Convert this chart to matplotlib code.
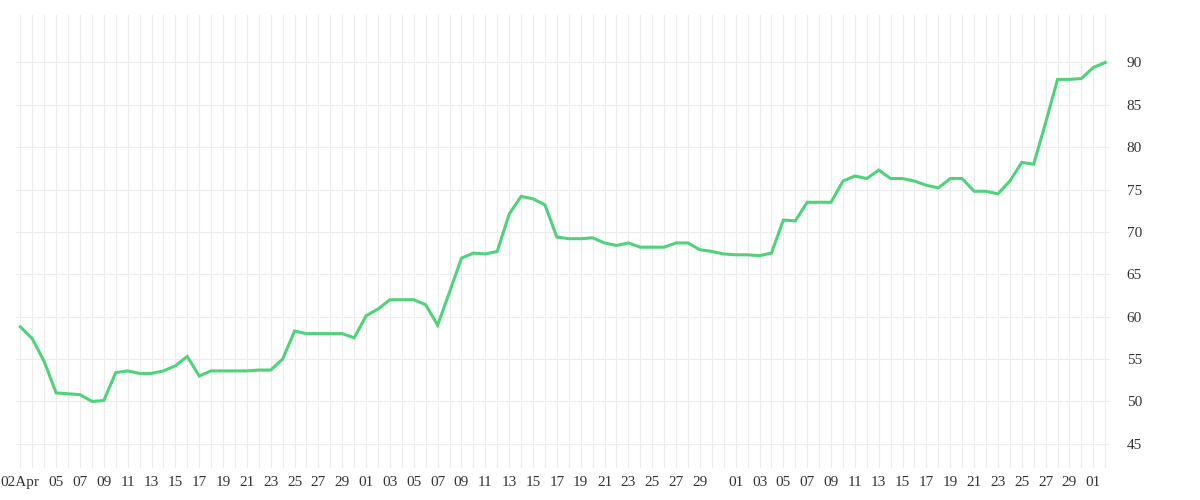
import matplotlib
matplotlib.use("Agg")
import matplotlib.pyplot as plt
import pandas as pd

start = "2024-04-02"
values = [58.8, 57.4, 54.7, 51.0, 50.9, 50.8, 50.0, 50.1, 53.4, 53.6, 53.3, 53.3, 53.6, 54.2, 55.3,
          53.0, 53.6, 53.6, 53.6, 53.6, 53.7, 53.7, 55.0, 58.3, 58.0, 58.0, 58.0, 58.0, 57.5,
          60.1, 60.9, 62.0, 62.0, 62.0, 61.4, 59.0, 62.9, 66.9, 67.5, 67.4, 67.7, 72.1, 74.2, 73.9,
          73.2, 69.4, 69.2, 69.2, 69.3, 68.7, 68.4, 68.7, 68.2, 68.2, 68.2, 68.7, 68.7, 67.9, 67.7, 67.4,
          67.3, 67.3, 67.2, 67.5, 71.4, 71.3, 73.5, 73.5, 73.5, 76.0, 76.6, 76.3, 77.3, 76.3, 76.3,
          76.0, 75.5, 75.2, 76.3, 76.3, 74.8, 74.8, 74.5, 76.0, 78.2, 78.0, 82.9, 88.0, 88.0, 88.1,
          89.4, 90.0]
yticks = [45, 50, 55, 60, 65, 70, 75, 80, 85, 90]

dates = pd.date_range(start, periods=len(values), freq="D")
x = list(range(len(values)))

tick_pos, tick_lab = [], []
for i, d in enumerate(dates):
    if i == 0:
        tick_pos.append(i); tick_lab.append("02Apr")
    elif d.day % 2 == 1 and d.day != 31 and i >= 3:
        tick_pos.append(i); tick_lab.append(f"{d.day:02d}")

fig = plt.figure(figsize=(12, 5), dpi=100)
ax = fig.add_axes([0.013, 0.065, 0.912, 0.905])
ax.plot(x, values, color="#4fd37a", lw=2.2, solid_joinstyle="miter")
ax.set_xlim(-0.4, len(values) - 0.6)
ax.set_ylim(42.2, 95.6)
ax.set_xticks(tick_pos)
ax.set_xticklabels(tick_lab, fontfamily="Liberation Serif", fontsize=11, color="#333333")
ax.set_xticks(x, minor=True)
ax.set_yticks(yticks)
ax.set_yticklabels([str(v) for v in yticks], fontfamily="Liberation Serif", fontsize=11, color="#333333")
ax.yaxis.tick_right()
ax.grid(True, which="both", color="#ececec", lw=0.8)
ax.tick_params(axis="both", which="both", length=0, pad=6)
ax.tick_params(axis="y", pad=12)
for s in ax.spines.values():
    s.set_visible(False)
ax.set_axisbelow(True)
fig.savefig("out.png", dpi=100)
